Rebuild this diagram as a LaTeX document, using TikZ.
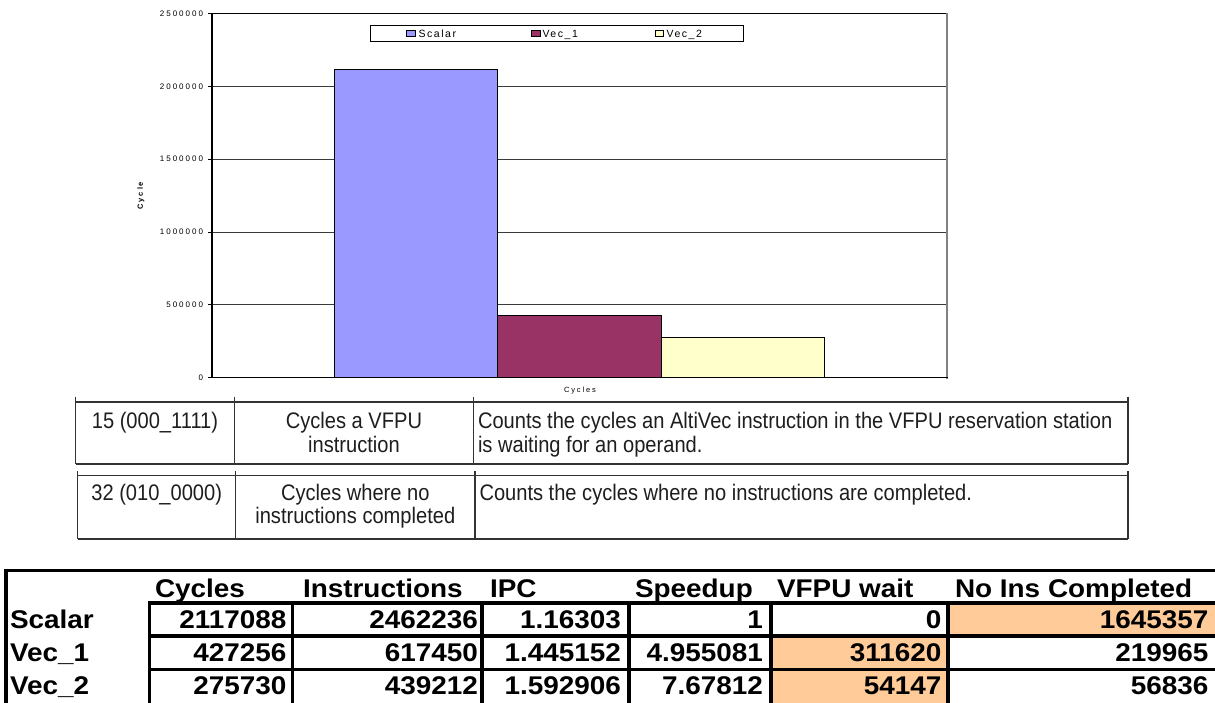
\documentclass[tikz,border=0pt]{standalone}
\usepackage{fontspec}
\setmainfont{Liberation Sans}
\newfontfamily\axisfont[LetterSpace=25]{Liberation Sans}
\newfontfamily\keyfont[LetterSpace=15]{Liberation Sans}
\newfontfamily\descfont[FakeStretch=0.893]{Liberation Sans}
\newfontfamily\sheetfont[FakeStretch=1.09]{Liberation Sans}
\definecolor{scalarbar}{HTML}{9999FF}
\definecolor{vecone}{HTML}{993366}
\definecolor{vectwo}{HTML}{FFFFCC}
\definecolor{hilite}{HTML}{FFCC99}
\definecolor{rulegrey}{HTML}{333333}
\definecolor{ink}{HTML}{1E1E1E}
\definecolor{gridgrey}{HTML}{3A3A3A}

\begin{document}
\begin{tikzpicture}[x=1pt,y=-1pt,
  txt/.style={inner sep=0pt, outer sep=0pt},
  ticklab/.style={txt, anchor=east, font=\axisfont\fontsize{8}{9}\selectfont},
  keylab/.style={txt, anchor=base west, font=\keyfont\fontsize{10.5}{12}\selectfont},
  bar/.style={draw=black, line width=0.9pt},
  swatch/.style={draw=black, line width=0.9pt},
  gridline/.style={draw=gridgrey, line width=0.9pt},
  descrule/.style={draw=rulegrey, line width=1.3pt},
  desc/.style={txt, anchor=base, text=ink, font=\descfont\fontsize{22.5}{26}\selectfont},
  descl/.style={desc, anchor=base west},
  sheet/.style={txt, font=\sheetfont\bfseries\fontsize{25.6}{30}\selectfont},
  head/.style={sheet, anchor=base west},
  num/.style={sheet, anchor=base east},
  cellrule/.style={draw=black, line width=3.8pt},
]
\useasboundingbox (0,0) rectangle (1215,703);
\fill[white] (0,0) rectangle (1215,703);

% ---------------- bar chart ----------------
% value axis: 500000 per 72.84 units, zero at y = 377.7
\foreach \v/\lab in {0/0,1/500000,2/1000000,3/1500000,4/2000000,5/2500000}{
  \pgfmathsetmacro\yy{377.7-72.84*\v}
  \ifnum\v>0 \ifnum\v<5 \draw[gridline] (212,\yy) -- (946.7,\yy); \fi\fi
  \draw[black, line width=0.9pt] (208.3,\yy) -- (212,\yy);
  \node[ticklab] (tick\v) at (203,\yy) {\lab};
}
% bars
\draw[bar, fill=scalarbar] (334.3,377.7) rectangle (497.7,69.3);
\draw[bar, fill=vecone]    (497.7,377.7) rectangle (661.0,315.5);
\draw[bar, fill=vectwo]    (661.0,377.7) rectangle (824.3,337.5);
% plot frame
\draw[black, line width=0.9pt] (212,13.5) -- (946.7,13.5);
\draw[draw=gray, line width=1.6pt] (946.7,13.5) -- (946.7,378.5);
\draw[black, line width=1.3pt] (212,13.5) -- (212,378.4);
\draw[black, line width=1.3pt] (208.3,377.7) -- (947.5,377.7);
% legend
\draw[black, line width=0.9pt, fill=white] (370,25.7) rectangle (743.3,41);
\draw[swatch, fill=scalarbar] (406.7,30.4) rectangle (415.3,36.2);
\draw[swatch, fill=vecone]    (531.5,30.4) rectangle (540.1,36.2);
\draw[swatch, fill=vectwo]    (655.3,30.4) rectangle (663.9,36.2);
\node[keylab] (keyscalar) at (418.5,37.6) {Scalar};
\node[keylab] (keyvecone) at (542.5,37.6) {Vec\_1};
\node[keylab] (keyvectwo) at (666.5,37.6) {Vec\_2};
% axis titles
\node[txt, rotate=90, font=\axisfont\bfseries\fontsize{7.5}{9}\selectfont] (ytitle) at (141,195.6) {Cycle};
\node[txt, font=\axisfont\fontsize{7.5}{9}\selectfont] (xtitle) at (580,391) {Cycles};

% ---------------- event descriptions ----------------
% event 15
\draw[descrule] (75.7,402) -- (1128,402);
\draw[descrule] (75.7,464) -- (1128,464);
\foreach \xx in {75.7,234.3,473.3,1128}{\draw[descrule] (\xx,396.7) -- (\xx,464);}
\node[desc]  (evA)    at (155,428) {15 (000\_1111)};
\node[desc]  (nameA1) at (354,428) {Cycles a VFPU};
\node[desc]  (nameA2) at (354,452) {instruction};
\node[descl] (textA1) at (478,428) {Counts the cycles an AltiVec instruction in the VFPU reservation station};
\node[descl] (textA2) at (478,452) {is waiting for an operand.};
% event 32
\draw[descrule] (77.7,475.5) -- (1128,475.5);
\draw[descrule] (77.7,539) -- (1128,539);
\foreach \xx in {77.7,235.7,475,1128}{\draw[descrule] (\xx,471) -- (\xx,539);}
\node[desc]  (evB)    at (156.7,500) {32 (010\_0000)};
\node[desc]  (nameB1) at (355.3,500) {Cycles where no};
\node[desc]  (nameB2) at (355.3,523) {instructions completed};
\node[descl] (textB1) at (479.5,500) {Counts the cycles where no instructions are completed.};

% ---------------- results sheet ----------------
\fill[hilite] (948,603) rectangle (1215,636);
\fill[hilite] (771,636) rectangle (948,703);
\draw[black, line width=3.6pt] (4,570.5) -- (1215,570.5);
\draw[black, line width=4pt] (6,568.7) -- (6,703);
\foreach \yy in {603,636,669.5}{\draw[cellrule] (149.5,\yy) -- (1215,\yy);}
\foreach \xx in {149.5,292.5,481.7,629,771,948}{\draw[cellrule] (\xx,601.1) -- (\xx,703);}
% header row
\node[head] (hcyc)  at (155,597)   {Cycles};
\node[head] (hins)  at (303,597)   {Instructions};
\node[head] (hipc)  at (490,597)   {IPC};
\node[head] (hspd)  at (635,597)   {Speedup};
\node[head] (hvfpu) at (777,597)   {VFPU wait};
\node[head] (hnoc)  at (955,597)   {No Ins Completed};
% row labels
\node[head] (rscalar) at (10,628.3) {Scalar};
\node[head] (rvecone) at (10,661.3) {Vec\_1};
\node[head] (rvectwo) at (10,694.3) {Vec\_2};
% values
\foreach \r/\yy/\a/\b/\c/\d/\e/\f in {
  1/628.3/2117088/2462236/1.16303/1/0/1645357,
  2/661.3/427256/617450/1.445152/4.955081/311620/219965,
  3/694.3/275730/439212/1.592906/7.67812/54147/56836}{
  \node[num] (c\r a) at (286.5,\yy) {\a};
  \node[num] (c\r b) at (478,\yy)   {\b};
  \node[num] (c\r c) at (621,\yy)   {\c};
  \node[num] (c\r d) at (763,\yy)   {\d};
  \node[num] (c\r e) at (941.5,\yy) {\e};
  \node[num] (c\r f) at (1208.5,\yy) {\f};
}
\end{tikzpicture}
\end{document}
